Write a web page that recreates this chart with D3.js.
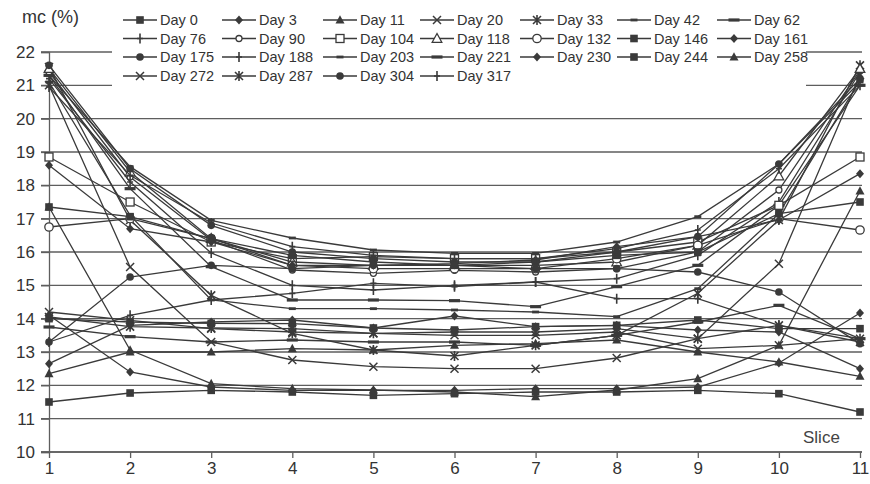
<!DOCTYPE html>
<html><head><meta charset="utf-8">
<script src="https://cdn.jsdelivr.net/npm/d3@7"></script>
<style>
body{margin:0;background:#fff;}
svg{display:block;font-family:"Liberation Sans",Arial,sans-serif;}
</style></head>
<body><svg id="chart" width="870" height="484"></svg>
<script>
// ---- data ----
const slices = [1,2,3,4,5,6,7,8,9,10,11];
const yTicks = [10,11,12,13,14,15,16,17,18,19,20,21,22];
const dayLabels = ["Day 0","Day 3","Day 11","Day 20","Day 33","Day 42","Day 62",
  "Day 76","Day 90","Day 104","Day 118","Day 132","Day 146","Day 161",
  "Day 175","Day 188","Day 203","Day 221","Day 230","Day 244","Day 258",
  "Day 272","Day 287","Day 304","Day 317"];
const day0   = [11.5, 11.77, 11.85, 11.8, 11.7, 11.75, 11.8, 11.8, 11.85, 11.75, 11.2];
const day3   = [14.1, 12.4, 11.95, 11.85, 11.85, 11.85, 11.9, 11.9, 11.95, 12.67, 14.17];
const day11  = [17.35, 13.06, 12.05, 11.9, 11.86, 11.8, 11.66, 11.86, 12.2, 13.2, 17.83];
const day20  = [21.0, 15.55, 13.3, 12.76, 12.56, 12.5, 12.5, 12.82, 13.4, 15.65, 21.3];
const day33  = [21.55, 16.96, 14.7, 13.56, 13.06, 12.88, 13.2, 13.5, 14.76, 16.96, 21.6];
const day42  = [21.1, 17.1, 14.56, 14.3, 14.3, 14.26, 14.2, 14.06, 14.9, 17.15, 21.15];
const day62  = [21.3, 17.9, 15.56, 14.56, 14.56, 14.54, 14.36, 14.96, 15.6, 17.4, 21.0];
const day76  = [21.2, 18.1, 15.97, 15.0, 14.86, 15.0, 15.1, 15.2, 15.9, 17.5, 21.4];
const day90  = [21.4, 18.25, 16.36, 15.46, 15.36, 15.45, 15.4, 15.5, 16.0, 17.86, 21.45];
const day104 = [18.85, 17.5, 16.3, 15.8, 15.86, 15.8, 15.8, 16.0, 16.3, 17.4, 18.85];
const day118 = [21.5, 18.4, 16.4, 15.7, 15.6, 15.6, 15.6, 15.7, 16.2, 18.28, 21.5];
const day132 = [16.75, 17.0, 16.4, 15.6, 15.5, 15.5, 15.5, 15.8, 16.2, 17.0, 16.66];
const day146 = [17.35, 17.06, 16.4, 15.9, 15.7, 15.6, 15.7, 15.9, 16.0, 17.15, 17.5];
const day161 = [18.6, 16.7, 16.3, 15.6, 15.6, 15.65, 15.76, 16.16, 16.46, 16.96, 18.35];
const day175 = [21.6, 18.5, 16.8, 16.0, 15.8, 15.7, 15.7, 16.0, 16.46, 18.64, 21.2];
const day188 = [20.95, 18.3, 16.87, 16.16, 15.9, 15.8, 15.8, 16.1, 16.66, 18.5, 21.0];
const day203 = [21.3, 18.56, 16.95, 16.42, 16.06, 15.96, 15.96, 16.3, 17.06, 18.64, 21.1];
const day221 = [13.75, 13.46, 13.3, 13.36, 13.3, 13.3, 13.2, 13.5, 13.9, 14.4, 13.4];
const day230 = [12.65, 13.8, 13.9, 13.96, 13.72, 14.08, 13.76, 13.8, 13.66, 13.6, 12.5];
const day244 = [14.0, 13.9, 13.86, 13.85, 13.72, 13.66, 13.76, 13.8, 13.96, 13.7, 13.7];
const day258 = [12.35, 13.0, 13.0, 13.1, 13.06, 13.2, 13.25, 13.36, 13.0, 12.7, 12.27];
const day272 = [14.2, 13.95, 13.7, 13.6, 13.56, 13.5, 13.5, 13.6, 13.1, 13.2, 13.4];
const day287 = [14.05, 13.76, 13.72, 13.7, 13.56, 13.6, 13.6, 13.7, 13.4, 13.8, 13.3];
const day304 = [13.3, 15.25, 15.6, 15.5, 15.6, 15.6, 15.5, 15.5, 15.4, 14.8, 13.25];
const day317 = [13.3, 14.1, 14.56, 14.76, 15.06, 14.96, 15.1, 14.6, 14.6, 13.8, 13.4];
const seriesValues = [day0,day3,day11,day20,day33,day42,day62,day76,day90,day104,day118,
  day132,day146,day161,day175,day188,day203,day221,day230,day244,day258,day272,day287,day304,day317];

// ---- style ----
const markerTypes = ["square","diamond","triangle","x","asterisk","dash","longdash",
  "plus","ocircleS","osquare","otriangle","ocircle","square","diamond",
  "circle","plus","dash","longdash","diamond","square","triangle",
  "x","asterisk","circle","plus"];
const ink = "#3a3a3a";

const svg = d3.select("#chart");
const x = d3.scaleLinear().domain([1,11]).range([49,860]);
const y = d3.scaleLinear().domain([10,22]).range([452,52]);

// gridlines
svg.append("g").selectAll("line").data(yTicks).join("line")
  .attr("x1",41).attr("x2",862).attr("y1",d=>y(d)).attr("y2",d=>y(d))
  .attr("stroke","#5e5e5e").attr("stroke-width",1.3);

// y axis
const yAx = svg.append("g").attr("transform","translate(49,0)")
  .call(d3.axisLeft(y).tickValues(yTicks).tickSize(8).tickPadding(6).tickFormat(d3.format("d")));
yAx.select(".domain").attr("stroke","#5e5e5e").attr("stroke-width",1.3);
yAx.selectAll(".tick line").attr("stroke","#5e5e5e").attr("stroke-width",1.3);
yAx.selectAll("text").attr("font-size",17).attr("fill","#333").attr("font-family","Liberation Sans, Arial, sans-serif");

// x axis
const xAx = svg.append("g").attr("transform","translate(0,452)")
  .call(d3.axisBottom(x).tickValues(slices).tickSize(6).tickPadding(4).tickFormat(d3.format("d")));
xAx.select(".domain").attr("stroke","#5e5e5e").attr("stroke-width",1.3).attr("d","M41,0H862");
xAx.selectAll(".tick line").attr("stroke","#5e5e5e").attr("stroke-width",1.3);
xAx.selectAll("text").attr("font-size",17).attr("fill","#333").attr("font-family","Liberation Sans, Arial, sans-serif");

svg.append("text").attr("x",803).attr("y",443).attr("font-size",17).attr("fill","#444").text("Slice");
svg.append("text").attr("x",22).attr("y",23).attr("font-size",18).attr("fill","#333").text("mc (%)");

// marker drawing
function drawMarker(g, type){
  const s = ink;
  switch(type){
    case "square": g.append("rect").attr("x",-3.8).attr("y",-3.8).attr("width",7.6).attr("height",7.6).attr("fill",s); break;
    case "diamond": g.append("path").attr("d","M0,-4.5L4,0L0,4.5L-4,0Z").attr("fill",s); break;
    case "triangle": g.append("path").attr("d","M0,-4.8L4.5,3.5L-4.5,3.5Z").attr("fill",s); break;
    case "circle": g.append("circle").attr("r",3.8).attr("fill",s); break;
    case "x": g.append("path").attr("d","M-4,-4L4,4M-4,4L4,-4").attr("stroke",s).attr("stroke-width",1.5).attr("fill","none"); break;
    case "asterisk": g.append("path").attr("d","M-4,-4L4,4M-4,4L4,-4M0,-5L0,5").attr("stroke",s).attr("stroke-width",1.6).attr("fill","none"); break;
    case "dash": g.append("rect").attr("x",-3.5).attr("y",-1.4).attr("width",7).attr("height",2.8).attr("fill",s); break;
    case "longdash": g.append("rect").attr("x",-5.5).attr("y",-1.6).attr("width",11).attr("height",3.2).attr("fill",s); break;
    case "plus": g.append("path").attr("d","M0,-5L0,5M-3,0L3,0").attr("stroke",s).attr("stroke-width",1.6).attr("fill","none"); break;
    case "ocircleS": g.append("circle").attr("r",3).attr("fill","#fff").attr("stroke",s).attr("stroke-width",1.3); break;
    case "ocircle": g.append("circle").attr("r",4.2).attr("fill","#fff").attr("stroke",s).attr("stroke-width",1.3); break;
    case "osquare": g.append("rect").attr("x",-4).attr("y",-4).attr("width",8).attr("height",8).attr("fill","#fff").attr("stroke",s).attr("stroke-width",1.3); break;
    case "otriangle": g.append("path").attr("d","M0,-5L4.8,3.8L-4.8,3.8Z").attr("fill","#fff").attr("stroke",s).attr("stroke-width",1.3); break;
  }
}

// series
const line = d3.line().x((d,i)=>x(slices[i])).y(d=>y(d));
const plot = svg.append("g");
seriesValues.forEach((vals,k)=>{
  const g = plot.append("g");
  g.append("path").attr("d",line(vals)).attr("fill","none").attr("stroke",ink).attr("stroke-width",1.3);
  vals.forEach((v,i)=>{
    const m = g.append("g").attr("transform",`translate(${x(slices[i])},${y(v)})`);
    drawMarker(m, markerTypes[k]);
  });
});

// legend
const leg = svg.append("g");
leg.append("rect").attr("x",112).attr("y",0).attr("width",694).attr("height",92).attr("fill","#fff");
const colX = [123,222,323,420,520,617,717];
const rowY = [20,38.5,57,76];
dayLabels.forEach((lab,k)=>{
  const cx = colX[k%7], cy = rowY[Math.floor(k/7)];
  const g = leg.append("g");
  g.append("line").attr("x1",cx).attr("x2",cx+34).attr("y1",cy).attr("y2",cy).attr("stroke",ink).attr("stroke-width",1.3);
  const m = g.append("g").attr("transform",`translate(${cx+17},${cy})`);
  drawMarker(m, markerTypes[k]);
  g.append("text").attr("x",cx+37).attr("y",cy+5).attr("font-size",14.5).attr("fill","#333").text(lab);
});
</script>
</body></html>
